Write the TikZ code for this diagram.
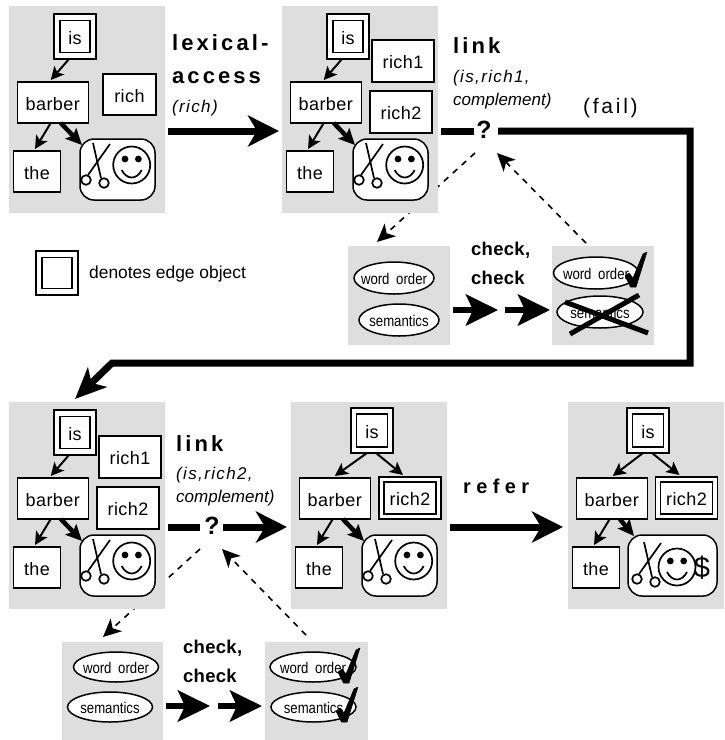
\documentclass[tikz,border=0pt]{standalone}
\usepackage{fontspec}
\setmainfont{Liberation Sans}
\newfontfamily\lsA[LetterSpace=2.5]{Liberation Sans}
\newfontfamily\lsB[LetterSpace=1.5]{Liberation Sans}
\newfontfamily\lsC[LetterSpace=14]{Liberation Sans}
\newfontfamily\lsD[LetterSpace=8]{Liberation Sans}
\newfontfamily\lsE[LetterSpace=27]{Liberation Sans}
\newfontfamily\lsF[LetterSpace=13]{Liberation Sans}
\newfontfamily\lsG{Liberation Sans}
\newfontfamily\lsN[FakeStretch=0.85]{Liberation Sans}
\usetikzlibrary{arrows.meta,calc,shapes.geometric}
\pgfdeclarelayer{dashlayer}
\pgfdeclarelayer{graylayer}
\pgfsetlayers{dashlayer,graylayer,main}
\definecolor{panelgray}{HTML}{DEDEDE}
\tikzset{
  graybox/.style={fill=panelgray,draw=none,inner sep=0pt,outer sep=0pt},
  tbox/.style={draw=black,fill=white,line width=1.5pt,inner sep=0pt,outer sep=0pt,text height=15pt,text depth=0pt,font=\lsA\fontsize{18}{20}\selectfont},
  blobbox/.style={draw=black,fill=white,line width=1.5pt,rounded corners=14pt,inner sep=0pt,outer sep=0pt},
  oval/.style={ellipse,draw=black,fill=white,line width=1.5pt,inner xsep=-9pt,inner ysep=0pt,outer sep=0pt,text height=12pt,text depth=0pt,font=\lsN\fontsize{15.5}{18}\selectfont},
  thin arrow/.style={line width=2pt,-{Stealth[length=13pt,width=13pt,inset=3pt]}},
  thick arrow/.style={line width=4.5pt,-{Stealth[length=16pt,width=15pt,inset=3pt]}},
  big arrow/.style={line width=7pt,-{Stealth[length=31pt,width=31pt,inset=9pt]}},
  small arrow/.style={line width=6pt,-{Stealth[length=32pt,width=31pt,inset=7pt]}},
  dash arrow/.style={line width=1.6pt,dash pattern=on 6pt off 6pt,-{Stealth[length=18pt,width=17pt,inset=5pt]}},
  plain line/.style={line width=7pt},
  heavy text/.style={anchor=base west,inner sep=0pt,font=\lsC\bfseries\fontsize{22}{24}\selectfont},
  check text/.style={anchor=base west,inner sep=0pt,font=\lsB\bfseries\fontsize{18.5}{20}\selectfont},
  ital text/.style={anchor=base west,inner sep=0pt,font=\lsD\itshape\fontsize{17}{20}\selectfont},
  ital tight/.style={anchor=base west,inner sep=0pt,font=\lsG\itshape\fontsize{17}{20}\selectfont},
  query/.style={inner sep=0pt,font=\bfseries\fontsize{25}{28}\selectfont},
  face line/.style={line width=1.7pt},
  tick mark/.style={fill=black,draw=black,line width=0.5pt,line join=round},
  cross line/.style={line width=5pt}
}
% double-framed box: name, cx, cy, outer w, outer h, inner w, inner h, text
\newcommand{\edgebox}[8]{%
  \node[tbox,minimum width=#4pt,minimum height=#5pt] (#1o) at (#2,#3) {};
  \node[tbox,minimum width=#6pt,minimum height=#7pt] (#1) at (#2,#3) {#8};
}
% gray panel with barber and the
\newcommand{\treebase}{%
  \begin{pgfonlayer}{graylayer}
    \node[graybox,minimum width=156pt,minimum height=207pt] (bg) at (87,109.5) {};
  \end{pgfonlayer}
  \node[tbox,minimum width=71pt,minimum height=41pt] (barber) at (52.75,102.5) {barber};
  \node[tbox,minimum width=47pt,minimum height=41pt] (the) at (37,171.5) {the};
  \draw[thin arrow] ([xshift=-2pt]barber.south) -- ([xshift=-2pt,yshift=2pt]the.north);
}
% face in blob
\newcommand{\faceat}[2]{%
  \draw[face line] (#1,#2) circle (18.5pt);
  \fill (#1-6.7,#2-6) circle (3.4pt) (#1+6.7,#2-6) circle (3.4pt);
  \draw[face line] (#1-10,#2+5) .. controls (#1-5,#2+15) and (#1+5,#2+15) .. (#1+10,#2+5);
}
\newcommand{\scissorsat}[2]{%
  \draw[face line] (#1+7,#2-37) -- (#1+15,#2-2);
  \draw[face line] (#1+24,#2-36) -- (#1+2,#2-5);
  \draw[face line,fill=white] (#1,#2) circle (4.8pt);
  \draw[face line,fill=white] (#1+18,#2+3) circle (4.8pt);
}
\newcommand{\blobnormal}{%
  \node[blobbox,minimum width=75pt,minimum height=61pt] (blob) at (117.5,169.5) {};
  \draw[thick arrow] ([xshift=8pt]barber.south) -- ([xshift=2pt,yshift=-6pt]blob.north west);
  \scissorsat{86}{180}
  \faceat{131.7}{165}
}
\newcommand{\tickat}[2]{%
  \filldraw[tick mark] (#1-7,#2-11) -- (#1-1.5,#2) -- (#1+4,#2) -- (#1+15,#2-35) -- (#1+11,#2-33) -- (#1+1,#2-9) -- (#1-3,#2-14) -- cycle;
}
\begin{document}
\begin{tikzpicture}[x=1pt,y=-1pt]
\useasboundingbox (0,0) rectangle (724,740);

% panel 1
\begin{scope}[name prefix=pa-]
  \treebase\blobnormal
  \edgebox{is}{75}{36.5}{42}{45}{30}{32}{is}
  \node[tbox,minimum width=53pt,minimum height=41pt] (rich) at (129.5,94.5) {rich};
  \draw[thin arrow] ([xshift=-6pt]iso.south) -- ([xshift=-2pt,yshift=2pt]barber.north);
\end{scope}

% panel 2
\begin{scope}[shift={(273,0)},name prefix=pb-]
  \treebase\blobnormal
  \edgebox{is}{75}{36.5}{42}{45}{30}{32}{is}
  \node[tbox,minimum width=62pt,minimum height=42pt] (richone) at (130,61) {rich1};
  \node[tbox,minimum width=62pt,minimum height=42pt] (richtwo) at (128,112) {rich2};
  \draw[thin arrow] ([xshift=-6pt]iso.south) -- ([xshift=-2pt,yshift=2pt]barber.north);
\end{scope}

% panel 3
\begin{scope}[shift={(0,396)},name prefix=pc-]
  \treebase\blobnormal
  \edgebox{is}{75}{36.5}{42}{45}{30}{32}{is}
  \node[tbox,minimum width=62pt,minimum height=42pt] (richone) at (130,61) {rich1};
  \node[tbox,minimum width=62pt,minimum height=42pt] (richtwo) at (128,112) {rich2};
  \draw[thin arrow] ([xshift=-6pt]iso.south) -- ([xshift=-2pt,yshift=2pt]barber.north);
\end{scope}

% panel 4
\begin{scope}[shift={(282,396)},name prefix=pd-]
  \treebase\blobnormal
  \edgebox{is}{90}{34.5}{42}{45}{31}{33}{is}
  \edgebox{rich}{128}{102}{62}{42}{52}{32}{rich2}
  \draw[thin arrow] ([xshift=-5pt]iso.south) -- ([xshift=0pt,yshift=2pt]barber.north);
  \draw[thin arrow] ([xshift=4pt]iso.south) -- ([xshift=-7pt,yshift=2pt]richo.north);
\end{scope}

% panel 5
\begin{scope}[shift={(559,396)},name prefix=pe-]
  \treebase
  \node[blobbox,minimum width=89pt,minimum height=61pt] (blob) at (113.5,169.5) {};
  \draw[thick arrow] ([xshift=8pt]barber.south) -- ([xshift=6pt,yshift=-1pt]blob.north west);
  \scissorsat{78}{183}
  \faceat{118}{171}
  \node[inner sep=0pt,font=\fontsize{29}{30}\selectfont] (dollar) at (143,172) {\$};
  \edgebox{is}{89}{34.5}{42}{45}{31}{33}{is}
  \edgebox{rich}{127.5}{102}{62}{42}{52}{32}{rich2}
  \draw[thin arrow] ([xshift=-5pt]iso.south) -- ([xshift=1pt,yshift=2pt]barber.north);
  \draw[thin arrow] ([xshift=4pt]iso.south) -- ([xshift=-7pt,yshift=2pt]richo.north);
\end{scope}

% legend
\edgebox{leg}{57}{273}{42}{44}{30}{31}{}
\node[anchor=base west,inner sep=0pt,font=\fontsize{17.4}{20}\selectfont] (legtext) at (89,278) {denotes edge object};

% check panels
\begin{pgfonlayer}{graylayer}
  \node[graybox,minimum width=102pt,minimum height=99pt] (ca) at (399,295.5) {};
  \node[graybox,minimum width=102pt,minimum height=99pt] (cb) at (603,295.5) {};
  \node[graybox,minimum width=101pt,minimum height=98pt] (cc) at (112.5,691) {};
  \node[graybox,minimum width=103pt,minimum height=98pt] (cd) at (316.5,691) {};
\end{pgfonlayer}
\node[oval,minimum width=80pt,minimum height=32pt] (awo) at (394,278) {word\hspace{3pt} order};
\node[oval,minimum width=80pt,minimum height=32pt] (asem) at (399,320) {semantics};
\node[oval,minimum width=85pt,minimum height=32pt] (bwo) at (596,273) {word\hspace{3pt} order};
\node[oval,minimum width=86pt,minimum height=32pt] (bsem) at (600,312) {semantics};
\node[oval,minimum width=85pt,minimum height=30pt] (cwo) at (116,667) {word\hspace{3pt} order};
\node[oval,minimum width=85pt,minimum height=30pt] (csem) at (110,707) {semantics};
\node[oval,minimum width=86pt,minimum height=30pt] (dwo) at (313,667) {word\hspace{3pt} order};
\node[oval,minimum width=85pt,minimum height=30pt] (dsem) at (313.5,707) {semantics};
\tickat{632}{287}
\tickat{345}{683}
\tickat{343}{722}
\coordinate (xa) at (565,302); \coordinate (xb) at (648,333);
\coordinate (xc) at (570,334); \coordinate (xd) at (639,295);
\draw[cross line] (xa) -- (xb);
\draw[cross line] (xc) -- (xd);

% texts
\node[heavy text] (tlex) at (172,50) {lexical-};
\node[heavy text] (tacc) at (172,83) {access};
\node[ital text] (trich) at (172,112) {(rich)};
\node[heavy text] (tlink) at (453,53) {link};
\node[ital text] (tis) at (453,82) {(is,rich1,};
\node[ital tight] (tcomp) at (453,105) {complement)};
\node[anchor=base west,inner sep=0pt,font=\lsF\fontsize{21}{24}\selectfont] (tfail) at (583,113) {(fail)};
\node[check text] (tcka) at (471,255) {check,};
\node[check text] (tckb) at (471,284) {check};
\node[heavy text] (tlinkb) at (176,451) {link};
\node[ital text] (tisb) at (176,479) {(is,rich2,};
\node[ital tight] (tcompb) at (176,502) {complement)};
\node[anchor=base west,inner sep=0pt,font=\lsE\bfseries\fontsize{20}{22}\selectfont] (trefer) at (463,493) {refer};
\node[check text] (tckc) at (183,653) {check,};
\node[check text] (tckd) at (183,682) {check};

% query nodes
\node[query] (qa) at (484,130) {?};
\node[query] (qb) at (212,526) {?};

% big connectors
\coordinate (lexs) at (168,131); \coordinate (lexe) at (279,131);
\draw[big arrow] (lexs) -- (lexe);
\coordinate (la) at (441,131);
\draw[plain line] (la) -- ([xshift=-10pt,yshift=-1pt]qa.center);
\coordinate (fa) at (690,131); \coordinate (fb) at (690,363);
\coordinate (fc) at (112,363); \coordinate (fd) at (75,399);
\draw[line width=7pt,line join=miter,-{Stealth[length=31pt,width=27pt,inset=8pt]}] ([xshift=14pt,yshift=-1pt]qa.center) -- (fa) -- (fb) -- (fc) -- (fd);
\coordinate (lb) at (168,527); \coordinate (lbe) at (287,527);
\draw[plain line] (lb) -- ([xshift=-12pt,yshift=-1pt]qb.center);
\draw[big arrow] ([xshift=11pt,yshift=-1pt]qb.center) -- (lbe);
\coordinate (ra) at (450,527); \coordinate (rb) at (563,527);
\draw[big arrow] (ra) -- (rb);

% small connectors
\coordinate (sa) at (453,310); \coordinate (sb) at (498,310);
\coordinate (sc) at (505,310); \coordinate (sd) at (550,310);
\draw[small arrow] (sa) -- (sb);
\draw[small arrow] (sc) -- (sd);
\coordinate (se) at (166,706); \coordinate (sf) at (210,706);
\coordinate (sg) at (218,706); \coordinate (sh) at (262,706);
\draw[small arrow] (se) -- (sf);
\draw[small arrow] (sg) -- (sh);

% dashed connectors, under the gray panels
\begin{pgfonlayer}{dashlayer}
  \coordinate (dqa) at (475,153); \coordinate (dca) at (377,242);
  \coordinate (dcb) at (586,243); \coordinate (dqb) at (497,153);
  \coordinate (dqc) at (200,549); \coordinate (dcc) at (103,637);
  \coordinate (dcd) at (306,635); \coordinate (dqd) at (222,549);
  \draw[dash arrow] (dqa) -- (dca);
  \draw[dash arrow] (dcb) -- (dqb);
  \draw[dash arrow] (dqc) -- (dcc);
  \draw[dash arrow] (dcd) -- (dqd);
\end{pgfonlayer}
\end{tikzpicture}
\end{document}
